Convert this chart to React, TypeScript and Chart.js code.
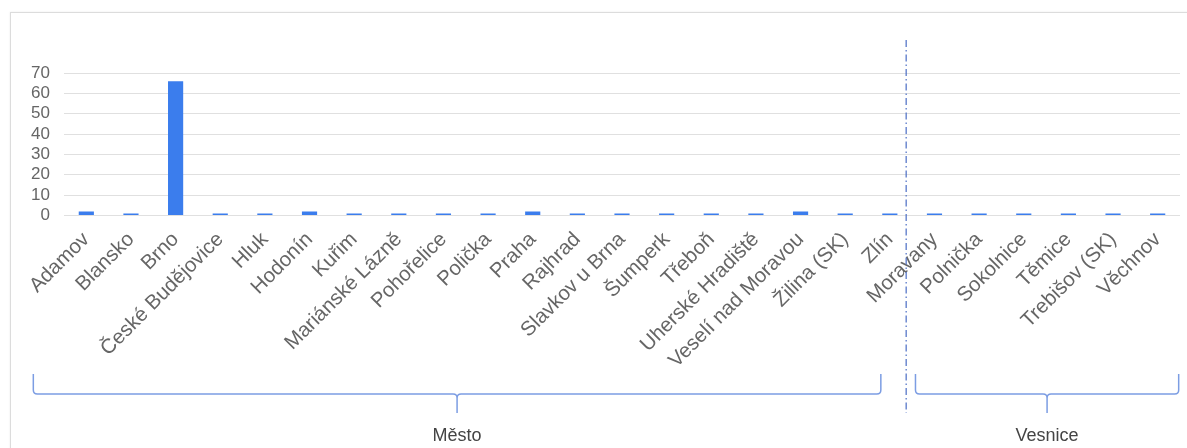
import React, { useEffect, useRef } from "react";
import { Chart, registerables } from "chart.js";

Chart.register(...registerables);

const categories = [
  "Adamov", "Blansko", "Brno", "České Budějovice", "Hluk", "Hodonín", "Kuřim",
  "Mariánské Lázně", "Pohořelice", "Polička", "Praha", "Rajhrad", "Slavkov u Brna",
  "Šumperk", "Třeboň", "Uherské Hradiště", "Veselí nad Moravou", "Žilina (SK)", "Zlín",
  "Moravany", "Polnička", "Sokolnice", "Těmice", "Trebišov (SK)", "Věchnov",
];
const values = [2, 1, 66, 1, 1, 2, 1, 1, 1, 1, 2, 1, 1, 1, 1, 1, 2, 1, 1, 1, 1, 1, 1, 1, 1];
const yTicks = [0, 10, 20, 30, 40, 50, 60, 70];
const groupLabels = ["Město", "Vesnice"];
const groupFirst = [0, 19];
const groupLast = [18, 24];

const FONT = "'Liberation Sans', Arial, sans-serif";

const bracketPlugin = {
  id: "brackets",
  afterDraw(chart: any) {
    const ctx = chart.ctx;
    const xs = chart.scales.x;
    const p = (i: number) => xs.getPixelForValue(i);
    // divider between groups
    const dx = (p(groupLast[0]) + p(groupFirst[1])) / 2 - 6;
    ctx.save();
    ctx.strokeStyle = "#4a6cc4";
    ctx.lineWidth = 1.2;
    ctx.setLineDash([7, 3, 1.5, 3]);
    ctx.beginPath();
    ctx.moveTo(dx, 40);
    ctx.lineTo(dx, 413);
    ctx.stroke();
    ctx.setLineDash([]);

    const ext = [
      [p(groupFirst[0]) - 53, p(groupLast[0]) - 9],
      [p(groupFirst[1]) - 19, p(groupLast[1]) + 21],
    ];
    const yTop = 374;
    const yH = 394;
    const yStem = 413;
    ctx.strokeStyle = "#7c9de3";
    ctx.lineWidth = 1.5;
    ext.forEach(([x1, x2], gi) => {
      const xc = (x1 + x2) / 2;
      ctx.beginPath();
      ctx.moveTo(x1, yTop);
      ctx.lineTo(x1, yH - 4);
      ctx.quadraticCurveTo(x1, yH, x1 + 4, yH);
      ctx.lineTo(xc - 4, yH);
      ctx.quadraticCurveTo(xc, yH, xc, yH + 4);
      ctx.lineTo(xc, yStem);
      ctx.moveTo(xc, yH + 4);
      ctx.quadraticCurveTo(xc, yH, xc + 4, yH);
      ctx.lineTo(x2 - 4, yH);
      ctx.quadraticCurveTo(x2, yH, x2, yH - 4);
      ctx.lineTo(x2, yTop);
      ctx.stroke();
      ctx.fillStyle = "#444444";
      ctx.font = `18px ${FONT}`;
      ctx.textAlign = "center";
      ctx.textBaseline = "middle";
      ctx.fillText(groupLabels[gi], xc, 436);
    });
    ctx.restore();
  },
};

export default function App() {
  const ref = useRef<HTMLCanvasElement>(null);
  useEffect(() => {
    if (!ref.current) return;
    const chart = new Chart(ref.current, {
      type: "bar",
      data: {
        labels: categories,
        datasets: [
          {
            data: values,
            backgroundColor: "#3b7ded",
            borderWidth: 0,
            barPercentage: 0.34,
            categoryPercentage: 1,
          },
        ],
      },
      options: {
        responsive: false,
        animation: false,
        maintainAspectRatio: false,
        layout: { padding: { top: 73, right: 7, left: 0, bottom: 0 } },
        plugins: { legend: { display: false }, tooltip: { enabled: false } },
        scales: {
          x: {
            grid: { display: false },
            border: { display: false },
            ticks: {
              autoSkip: false,
              minRotation: 45,
              maxRotation: 45,
              padding: 4,
              color: "#666666",
              font: { family: FONT, size: 20.5 },
            },
            afterFit: (s: any) => {
              s.height = 232.5;
            },
          },
          y: {
            min: 0,
            max: 70,
            afterBuildTicks: (s: any) => {
              s.ticks = yTicks.map((v) => ({ value: v }));
            },
            grid: { color: "#e0e0e0", drawTicks: false, lineWidth: 1 },
            border: { display: false },
            ticks: {
              autoSkip: false,
              padding: 14,
              color: "#666666",
              font: { family: FONT, size: 17 },
            },
            afterFit: (s: any) => {
              s.width = 64;
            },
          },
        },
      },
      plugins: [bracketPlugin],
    });
    return () => chart.destroy();
  }, []);
  return (
    <div style={{ position: "absolute", left: 0, top: 0, width: 1187, height: 448, background: "#fff", overflow: "hidden" }}>
      <div
        style={{
          position: "absolute",
          left: 10,
          top: 12,
          width: 1300,
          height: 600,
          border: "1px solid #dcdcdc",
          boxShadow: "0 0 2px rgba(0,0,0,0.08)",
        }}
      />
      <canvas ref={ref} width={1187} height={448} style={{ position: "absolute", left: 0, top: 0 }} />
    </div>
  );
}
